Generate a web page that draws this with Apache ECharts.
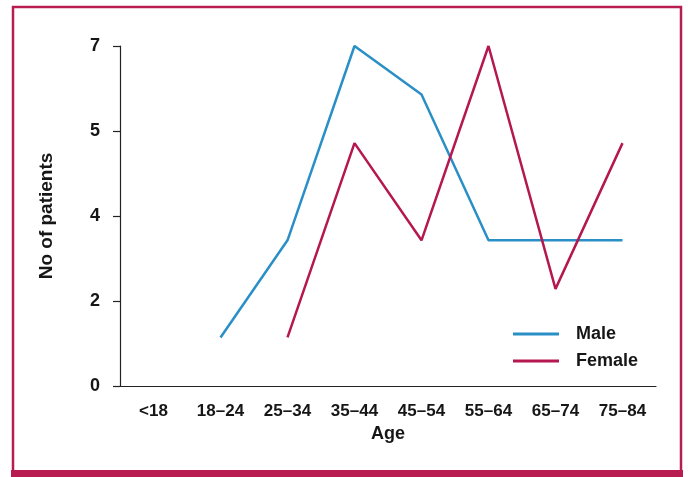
<!DOCTYPE html>
<html>
<head>
<meta charset="utf-8">
<script src="https://cdn.jsdelivr.net/npm/echarts@6/dist/echarts.min.js"></script>
<style>
  html, body { margin: 0; padding: 0; background: #fff; }
  #chart { width: 688px; height: 477px; }
</style>
</head>
<body>
<div id="chart"></div>
<script>
const ageGroups = ['<18', '18–24', '25–34', '35–44', '45–54', '55–64', '65–74', '75–84']
const maleCounts = [null, 1, 3, 7, 6, 3, 3, 3]
const femaleCounts = [null, null, 1, 5, 3, 7, 2, 5]

const frameColor = '#b81c50'
const maleColor = '#2a8fc6'
const femaleColor = '#b5174f'
const textColor = '#161616'
const font = 'Liberation Sans, Arial, sans-serif'

const chart = echarts.init(document.getElementById('chart'))

chart.setOption({
  animation: false,
  textStyle: { fontFamily: font },
  graphic: [
    {
      type: 'rect',
      shape: { x: 13, y: 7, width: 668, height: 470 },
      style: { fill: 'none', stroke: frameColor, lineWidth: 2.5 },
    },
    {
      type: 'rect',
      shape: { x: 11, y: 470, width: 672, height: 8 },
      style: { fill: frameColor },
    },
  ],
  grid: { left: 120, right: 32, top: 46, bottom: 91 },
  legend: {
    orient: 'vertical',
    left: 508,
    top: 320,
    itemWidth: 46,
    itemHeight: 3,
    itemGap: 9,
    icon: 'rect',
    textStyle: { fontSize: 18, fontWeight: 'bold', color: textColor, padding: [0, 0, 0, 12] },
    data: ['Male', 'Female'],
  },
  xAxis: {
    type: 'category',
    data: ageGroups,
    name: 'Age',
    nameLocation: 'middle',
    nameGap: 39,
    nameTextStyle: { fontSize: 18, fontWeight: 'bold', color: textColor },
    axisLine: { lineStyle: { color: '#222', width: 1.2 } },
    axisTick: { length: 8, lineStyle: { color: '#222', width: 1.2 } },
    axisLabel: { fontSize: 17, fontWeight: 'bold', color: textColor, margin: 17 },
  },
  yAxis: {
    type: 'value',
    min: 0,
    max: 7,
    interval: 1.75,
    name: 'No of patients',
    nameLocation: 'middle',
    nameGap: 64,
    nameTextStyle: { fontSize: 19, fontWeight: 'bold', color: textColor },
    axisLine: { show: true, lineStyle: { color: '#222', width: 1.2 } },
    axisTick: { show: true, length: 7, lineStyle: { color: '#222', width: 1.2 } },
    splitLine: { show: false },
    axisLabel: {
      fontSize: 18,
      fontWeight: 'bold',
      color: textColor,
      margin: 20,
      formatter: v => Math.round(v),
    },
  },
  series: [
    {
      name: 'Male',
      type: 'line',
      data: maleCounts,
      symbol: 'none',
      color: maleColor,
      lineStyle: { width: 2.5, color: maleColor },
    },
    {
      name: 'Female',
      type: 'line',
      data: femaleCounts,
      symbol: 'none',
      color: femaleColor,
      lineStyle: { width: 2.5, color: femaleColor },
    },
  ],
})
</script>
</body>
</html>
